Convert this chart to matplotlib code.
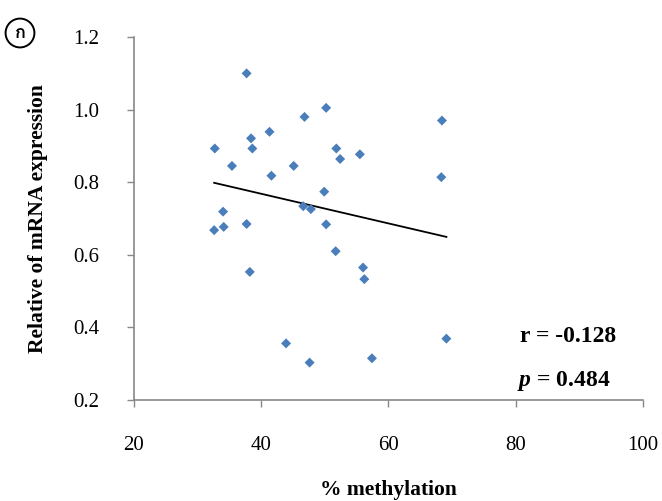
import numpy as np
import matplotlib
matplotlib.use("Agg")
from matplotlib import pyplot as plt
from matplotlib import font_manager
from matplotlib.ft2font import FT2Font

# % methylation vs relative mRNA expression
methylation = [37.7, 50.2, 46.8, 68.4, 41.3, 38.4, 32.7, 38.6, 51.8, 52.4,
               55.5, 35.4, 45.1, 41.6, 68.3, 49.9, 34.0, 46.6, 47.8, 50.2,
               32.6, 34.1, 37.7, 51.7, 56.0, 56.2, 38.2, 43.9, 47.6, 57.4, 69.1]
expression = [1.100, 1.005, 0.980, 0.970, 0.939, 0.921, 0.893, 0.893, 0.893, 0.864,
              0.877, 0.845, 0.845, 0.818, 0.814, 0.774, 0.719, 0.734, 0.726, 0.684,
              0.668, 0.677, 0.685, 0.610, 0.565, 0.533, 0.553, 0.356, 0.303, 0.315, 0.369]
x_ticks = [20, 40, 60, 80, 100]
y_ticks = [0.2, 0.4, 0.6, 0.8, 1.0, 1.2]
r_text = "r = -0.128"
p_text = "$p$ = 0.484"
panel_label = "ก"


def find_family(char):
    """look for an installed font that has the character"""
    for f in font_manager.fontManager.ttflist:
        try:
            if ord(char) in FT2Font(f.fname).get_charmap():
                return f.name
        except Exception:
            pass
    return 'DejaVu Sans'


plt.rcParams['font.family'] = ['Liberation Serif', 'DejaVu Serif']
plt.rcParams['mathtext.fontset'] = 'custom'
plt.rcParams['mathtext.it'] = 'Liberation Serif:bold:italic'
plt.rcParams['mathtext.rm'] = 'Liberation Serif:bold'

fig = plt.figure(figsize=(6.62, 5.01), dpi=100)
ax = fig.add_axes([0.2024, 0.2016, 0.7689, 0.7244])

ax.scatter(methylation, expression, marker='D', s=26, color='#4a7ebb',
           edgecolors='none', zorder=3)

# linear trend line over the data range
slope, intercept = np.polyfit(methylation, expression, 1)
xs = np.array([min(methylation), max(methylation)])
ax.plot(xs, slope * xs + intercept, color='black', lw=1.3, zorder=2)

ax.set_xlim(20, 100)
ax.set_ylim(0.2, 1.2)
ax.set_xticks(x_ticks)
ax.set_yticks(y_ticks)
ax.set_yticklabels(['%.1f' % v for v in y_ticks])
ax.tick_params(axis='both', labelsize=15, color='#888888', length=5, width=1)
ax.tick_params(axis='x', pad=21)
ax.tick_params(axis='y', pad=20)
for side in ['top', 'right']:
    ax.spines[side].set_visible(False)
for side in ['left', 'bottom']:
    ax.spines[side].set_color('#888888')
    ax.spines[side].set_linewidth(1.2)

ax.set_xlabel('% methylation', fontsize=15.5, fontweight='bold', labelpad=18)
ax.set_ylabel('Relative of mRNA expression', fontsize=15.5, fontweight='bold', labelpad=18)

ax.text(0.758, 0.174, r_text, transform=ax.transAxes, fontsize=17,
        fontweight='bold', va='center')
ax.text(0.752, 0.052, p_text, transform=ax.transAxes, fontsize=17,
        fontweight='bold', va='center')

# panel marker (Thai letter in a circle)
fig.text(20 / 662, 1 - 33 / 501, panel_label, fontsize=13, fontweight='bold',
         ha='center', va='center',
         family=[find_family(panel_label), 'DejaVu Sans'],
         bbox=dict(boxstyle='circle,pad=0.3', fc='white', ec='black', lw=1.4))

fig.savefig('out.png', dpi=100)
